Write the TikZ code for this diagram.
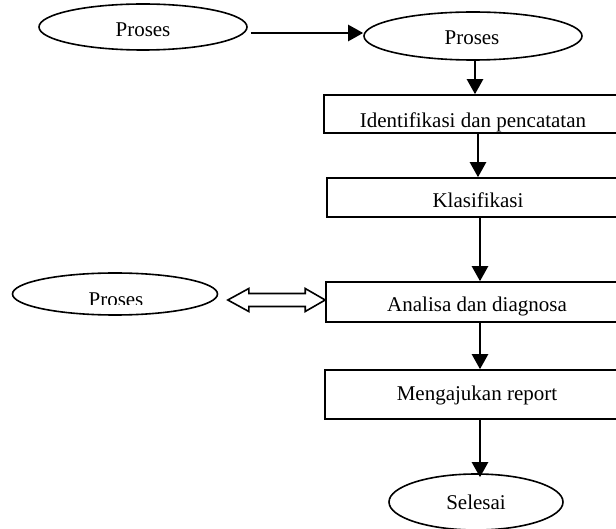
\documentclass[tikz,border=0pt]{standalone}
\usepackage{fontspec}
\setmainfont{Liberation Serif}
\usetikzlibrary{arrows.meta,calc,shapes.geometric}
\begin{document}
\begin{tikzpicture}[x=1pt,y=-1pt,
  shapeline/.style={draw=black,line width=1.6pt},
  oval/.style={shapeline,ellipse,inner sep=0pt},
  stepbox/.style={shapeline,rectangle,inner sep=0pt},
  lbl/.style={anchor=base,inner sep=0pt,font=\fontsize{21}{25}\selectfont},
  arr/.style={line width=2.4pt,-{Triangle[length=15pt,width=16pt]}},
  hollow/.style={draw=black,line width=1.6pt,fill=white,line join=miter}]
\useasboundingbox (0,0) rectangle (616,529);
% shapes
\node[oval,minimum width=208pt,minimum height=46pt] (e1) at (143,27) {};
\node[oval,minimum width=218pt,minimum height=48pt] (e2) at (473,36) {};
\node[oval,minimum width=205pt,minimum height=42pt] (e3) at (115,294) {};
\node[oval,minimum width=174pt,minimum height=56pt] (e4) at (476,502) {};
\node[stepbox,minimum width=298pt,minimum height=38pt] (b1) at (473,114) {};
\node[stepbox,minimum width=302pt,minimum height=39pt] (b2) at (478,197.5) {};
\node[stepbox,minimum width=308pt,minimum height=40pt] (b3) at (480,302) {};
\node[stepbox,minimum width=301pt,minimum height=49pt] (b4) at (475.5,394.5) {};
% labels
\node[lbl] (t1) at (143,37) {Proses};
\node[lbl] (t2) at (472,45) {Proses};
\begin{scope}
\clip (b1.north west) rectangle ([yshift=1pt]b1.south east);
\node[lbl] (t3) at (473,128) {Identifikasi dan pencatatan};
\end{scope}
\node[lbl] (t4) at (478,208) {Klasifikasi};
\begin{scope}
\clip (b3.north west) rectangle ([yshift=1pt]b3.south east);
\node[lbl] (t5) at (477,312) {Analisa dan diagnosa};
\end{scope}
\begin{scope}
\clip (60,280) rectangle (170,305);
\node[lbl] (t6) at (116,307) {Proses};
\end{scope}
\node[lbl] (t7) at (477,400) {Mengajukan report};
\node[lbl] (t8) at (476,509) {Selesai};
% connectors
\draw[arr] ([xshift=3pt,yshift=-6pt]e1.east) -- ([yshift=3pt]e2.west);
\draw[arr] ([xshift=2pt]e2.south) -- ([xshift=2pt]e2.south |- b1.north);
\draw[arr] (b2.north |- b1.south) -- (b2.north);
\draw[arr] (b3.north |- b2.south) -- (b3.north);
\draw[arr] (b3.south) -- (b3.south |- b4.north);
\draw[arr] (b3.south |- b4.south) -- ([yshift=-4pt]b3.south |- e4.north);
% hollow double arrow
\coordinate (dl) at ([xshift=9.5pt,yshift=-6pt]e3.east);
\coordinate (dr) at ([yshift=2pt]b3.west);
\draw[hollow] (dl) -- ([shift={(21,-11.5)}]dl) -- ([shift={(21,-6.5)}]dl)
  -- ([shift={(-20,-6.5)}]dr) -- ([shift={(-20,-11.5)}]dr) -- (dr)
  -- ([shift={(-20,11.5)}]dr) -- ([shift={(-20,6.5)}]dr)
  -- ([shift={(21,6.5)}]dl) -- ([shift={(21,11.5)}]dl) -- cycle;
\end{tikzpicture}
\end{document}
